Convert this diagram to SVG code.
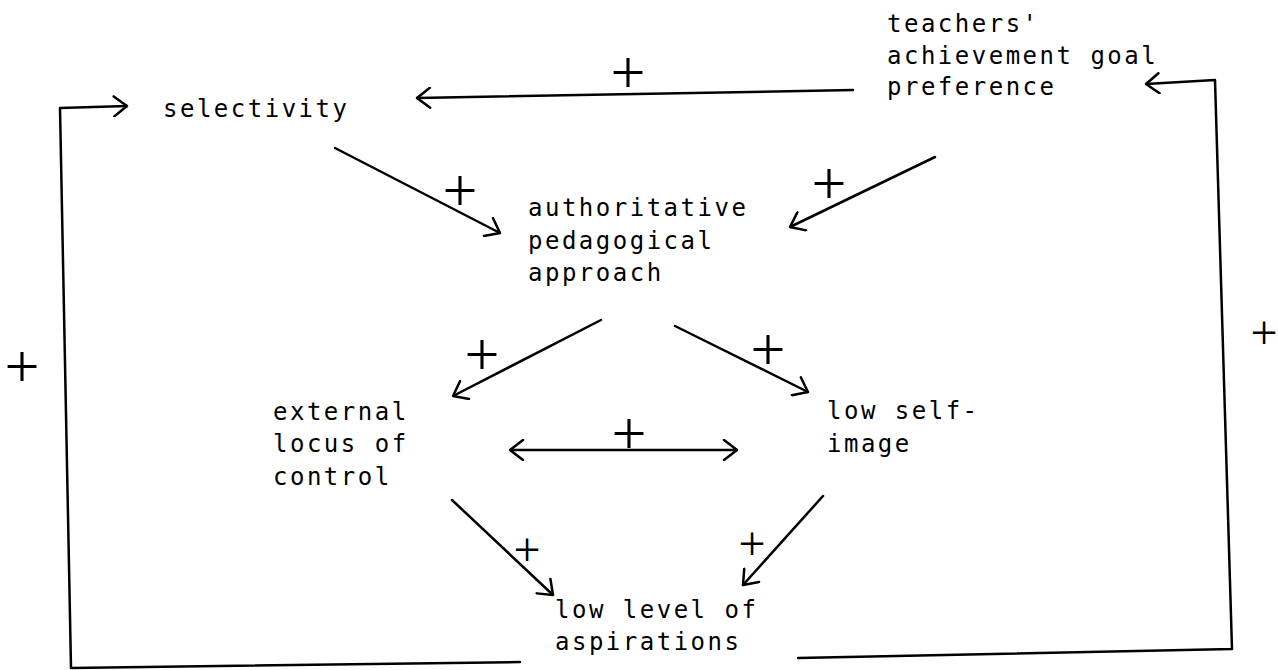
<svg xmlns="http://www.w3.org/2000/svg" width="1278" height="670" viewBox="0 0 1278 670">
<style>
.t{font-family:"DejaVu Sans Mono","Liberation Mono",monospace;font-size:24px;letter-spacing:2.5px;fill:#000}
.p{font-family:"Liberation Serif","Times New Roman",serif;font-size:62px;fill:#000;text-anchor:middle}
.s{font-size:48px}
.c{fill:none;stroke:#000;stroke-width:2.5;stroke-linecap:round;stroke-linejoin:round}
</style>
<defs>
<marker id="ah" viewBox="0 0 16 22" refX="15" refY="11" markerWidth="16" markerHeight="22" markerUnits="userSpaceOnUse" orient="auto-start-reverse">
<path d="M2,1 L15,11 L2,21" fill="none" stroke="#000" stroke-width="2.5" stroke-linecap="round" stroke-linejoin="round"/>
</marker>
</defs>
<rect width="1278" height="670" fill="#fff"/>
<g id="connectors">
<path class="c" d="M853,90 L417,98" marker-end="url(#ah)"/>
<path class="c" d="M335,148 L500,233" marker-end="url(#ah)"/>
<path class="c" d="M935,157 L790,227" marker-end="url(#ah)"/>
<path class="c" d="M601,320 L453,396" marker-end="url(#ah)"/>
<path class="c" d="M675,326 L808,392" marker-end="url(#ah)"/>
<path class="c" d="M510,450 L737,450" marker-start="url(#ah)" marker-end="url(#ah)"/>
<path class="c" d="M452,500 L553,595" marker-end="url(#ah)"/>
<path class="c" d="M823,496 L743,585" marker-end="url(#ah)"/>
<path class="c" d="M798,658 L1232,649 L1215,80 L1146,84" marker-end="url(#ah)"/>
<path class="c" d="M520,662 L71,668 L60,108 L127,106" marker-end="url(#ah)"/>
<text class="p" x="628" y="93">+</text>
<text class="p" x="460" y="211">+</text>
<text class="p" x="829" y="204">+</text>
<text class="p" x="482" y="375">+</text>
<text class="p" x="768" y="370">+</text>
<text class="p" x="629" y="454">+</text>
<text class="p s" x="527" y="566">+</text>
<text class="p s" x="752" y="560">+</text>
<text class="p" x="22" y="387">+</text>
<text class="p s" x="1264" y="349">+</text>
</g>
<g id="selectivity"><text class="t" x="163" y="117">selectivity</text></g>
<g id="teachers"><text class="t" x="887" y="32">teachers'</text><text class="t" x="887" y="63.5">achievement goal</text><text class="t" x="887" y="95">preference</text></g>
<g id="authoritative"><text class="t" x="528" y="216">authoritative</text><text class="t" x="528" y="248.5">pedagogical</text><text class="t" x="528" y="281">approach</text></g>
<g id="external"><text class="t" x="273" y="420">external</text><text class="t" x="273" y="452">locus of</text><text class="t" x="273" y="485">control</text></g>
<g id="selfimage"><text class="t" x="827" y="419">low self-</text><text class="t" x="827" y="452">image</text></g>
<g id="aspirations"><text class="t" x="555" y="618">low level of</text><text class="t" x="555" y="650">aspirations</text></g>
</svg>
